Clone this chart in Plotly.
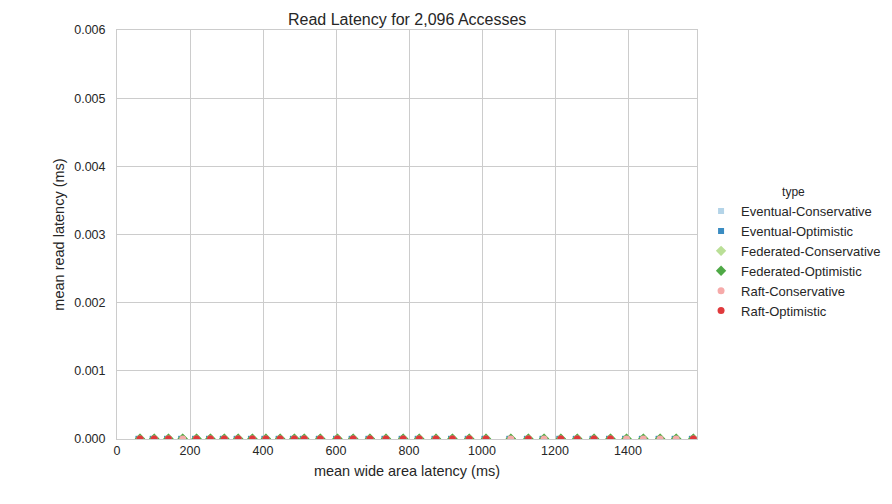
import plotly.graph_objects as go

# wide-area latency positions (ms)
x_all = [63, 102, 141, 180, 218, 256, 294, 332, 371, 408, 447, 486, 513, 557,
         604, 647, 693, 737, 784, 828, 874, 919, 965, 1011, 1079, 1127, 1170,
         1216, 1261, 1307, 1352, 1396, 1442, 1488, 1532, 1579]
x_eventual = [x - 4 for x in x_all]
x_raft_opt = [63, 102, 141, 218, 256, 294, 332, 371, 408, 447, 486, 513, 557,
              604, 647, 693, 737, 784, 828, 874, 919, 965, 1011, 1127,
              1216, 1261, 1307, 1352, 1579]

y_eventual_cons = [0.000002] * len(x_all)
y_eventual_opt = [0.000002] * len(x_all)
y_fed_cons = [0.000003] * len(x_all)
y_fed_opt = [0.000003] * len(x_all)
y_raft_cons = [0.000001] * len(x_all)
y_raft_opt = [0.000001] * len(x_raft_opt)

series = [
    ("Eventual-Conservative", x_eventual, y_eventual_cons, "square", "#b4d4e8", 6),
    ("Eventual-Optimistic", x_eventual, y_eventual_opt, "square", "#3a8cc2", 6),
    ("Federated-Conservative", x_all, y_fed_cons, "diamond", "#badf97", 8),
    ("Federated-Optimistic", x_all, y_fed_opt, "diamond", "#4fa946", 8),
    ("Raft-Conservative", x_all, y_raft_cons, "circle", "#f6aaa9", 7),
    ("Raft-Optimistic", x_raft_opt, y_raft_opt, "circle", "#e0393c", 7),
]

fig = go.Figure()
for name, xs, ys, sym, col, sz in series:
    fig.add_trace(go.Scatter(
        x=xs, y=ys, mode="markers", name=name,
        marker=dict(symbol=sym, color=col, size=sz, line=dict(width=0)),
        cliponaxis=True,
    ))

font = "Liberation Sans, Arial, sans-serif"
fig.update_layout(
    width=892, height=504,
    margin=dict(l=117, r=195, t=30, b=65, autoexpand=False),
    paper_bgcolor="white", plot_bgcolor="white",
    font=dict(family=font, size=12, color="#262626"),
    title=dict(text="Read Latency for 2,096 Accesses", x=0.4565, xanchor="center",
               y=0.962, yanchor="middle", font=dict(size=16, color="#262626")),
    xaxis=dict(range=[0, 1589], tickvals=[0, 200, 400, 600, 800, 1000, 1200, 1400],
               showgrid=True, gridcolor="#cccccc", gridwidth=1,
               showline=True, linecolor="#cccccc", mirror=True, zeroline=False,
               ticks="", title=dict(text="mean wide area latency (ms)", font=dict(size=14.5), standoff=8),
               tickfont=dict(size=12.5)),
    yaxis=dict(range=[0, 0.006], tickvals=[0, 0.001, 0.002, 0.003, 0.004, 0.005, 0.006],
               tickformat=".3f", showgrid=True, gridcolor="#cccccc", gridwidth=1,
               showline=True, linecolor="#cccccc", mirror=True, zeroline=False,
               ticks="", ticklabelstandoff=8,
               title=dict(text="mean read latency (ms)", font=dict(size=14.5), standoff=6),
               tickfont=dict(size=12.5)),
    legend=dict(x=1.007, xanchor="left", y=0.632, yanchor="top",
                title=dict(text="type", side="top center", font=dict(size=12)),
                font=dict(size=13), itemsizing="trace", tracegroupgap=0,
                bgcolor="rgba(0,0,0,0)"),
)
fig.write_html("out.html")
